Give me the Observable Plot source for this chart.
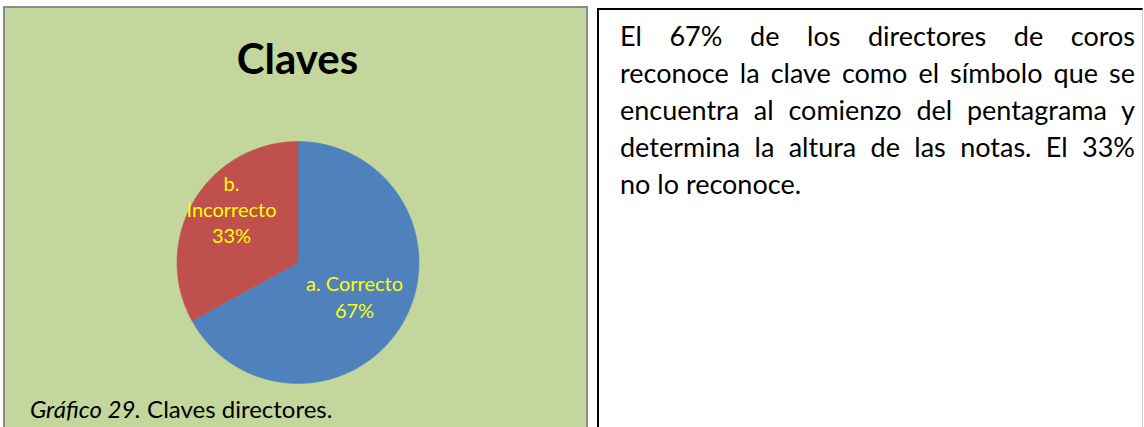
<!DOCTYPE html>
<html>
<head>
<meta charset="utf-8">
<script src="https://cdn.jsdelivr.net/npm/d3@7"></script>
<script src="https://cdn.jsdelivr.net/npm/@observablehq/plot@0.6"></script>
<style>
  html, body { margin: 0; padding: 0; background: #fff; }
  body { width: 1144px; height: 427px; overflow: hidden; position: relative; font-family: Lato, "Open Sans", sans-serif; }
  #left { position: absolute; left: 3px; top: 6px; width: 585px; height: 440px; background: #C3D69B; border: 2px solid #8c8c8c; box-sizing: border-box; }
  #title { position: absolute; left: 0; width: 595px; top: 33px; text-align: center; font-weight: bold; font-size: 42px; line-height: 1.2; color: #000; }
  #caption { position: absolute; left: 30px; top: 395px; font-size: 24px; line-height: 1.2; color: #000; white-space: nowrap; }
  #chart { position: absolute; left: 0; top: 0; }
  #right { position: absolute; left: 597px; top: 8px; width: 546px; height: 440px; border-top: 2px solid #000; border-left: 2px solid #000; border-right: 1px solid #cfcfcf; box-sizing: border-box; }
  #body { position: absolute; left: 620px; top: 17px; width: 515px; font-size: 27px; line-height: 37px; color: #000; }
  #body div { text-align: justify; text-align-last: justify; white-space: nowrap; }
  #body div.last { text-align-last: left; }
</style>
</head>
<body>
<div id="left"></div>
<div id="right"></div>
<div id="chart"></div>
<div id="title"></div>
<div id="caption"></div>
<div id="body"></div>
<script>
// ---- data ----
const title = "Claves";
const categories = ["a. Correcto", "b. Incorrecto"];
const labelTexts = ["a. Correcto\n67%", "b.\nIncorrecto\n33%"];
const values = [67, 33];
const colors = ["#4F81BD", "#C0504D"];
const captionItalic = "Gráfico 29.";
const captionRest = " Claves directores.";
const bodyLines = [
  "El 67% de los directores de coros",
  "reconoce la clave como el símbolo que se",
  "encuentra al comienzo del pentagrama y",
  "determina la altura de las notas. El 33%",
  "no lo reconoce."
];

// ---- text ----
document.getElementById("title").textContent = title;
const cap = document.getElementById("caption");
const it = document.createElement("i"); it.textContent = captionItalic;
cap.appendChild(it); cap.appendChild(document.createTextNode(captionRest));
const body = document.getElementById("body");
bodyLines.forEach((l, i) => {
  const d = document.createElement("div");
  d.textContent = l;
  if (i === bodyLines.length - 1) d.className = "last";
  body.appendChild(d);
});

// ---- pie geometry from data ----
const pie = d3.pie().sort(null).value(d => d)(values); // angles clockwise from 12 o'clock
const pts = [];
pie.forEach((p, i) => {
  const cat = categories[i];
  pts.push({cat, x: 0, y: 0});
  const n = Math.max(2, Math.ceil((p.endAngle - p.startAngle) / (Math.PI / 360)));
  for (let k = 0; k <= n; k++) {
    const a = p.startAngle + (p.endAngle - p.startAngle) * k / n;
    pts.push({cat, x: Math.sin(a), y: Math.cos(a)});
  }
  pts.push({cat, x: 0, y: 0});
});
const labelR = 0.6;
const labels = pie.map((p, i) => {
  const a = (p.startAngle + p.endAngle) / 2;
  return {cat: categories[i], text: labelTexts[i], x: labelR * Math.sin(a), y: labelR * Math.cos(a)};
});

const cx = 297.5, cy = 262, R = 121;
const chart = Plot.plot({
  width: 600, height: 427,
  margin: 0,
  style: {background: "transparent", overflow: "visible"},
  x: {domain: [-1, 1], range: [cx - R, cx + R], axis: null},
  y: {domain: [-1, 1], range: [cy + R, cy - R], axis: null},
  color: {domain: categories, range: colors},
  marks: [
    Plot.line(pts, {x: "x", y: "y", z: "cat", fill: "cat", stroke: "cat", strokeWidth: 0.5, curve: "linear"}),
    Plot.text(labels.filter(d => d.cat === categories[0]), {x: "x", y: "y", text: "text", fill: "#FFFF00", fontSize: 20, fontFamily: "Lato", lineHeight: 1.35, dx: -6, dy: -4}),
    Plot.text(labels.filter(d => d.cat === categories[1]), {x: "x", y: "y", text: "text", fill: "#FFFF00", fontSize: 20, fontFamily: "Lato", lineHeight: 1.3, dx: -4, dy: -17})
  ]
});
document.getElementById("chart").appendChild(chart);
</script>
</body>
</html>
